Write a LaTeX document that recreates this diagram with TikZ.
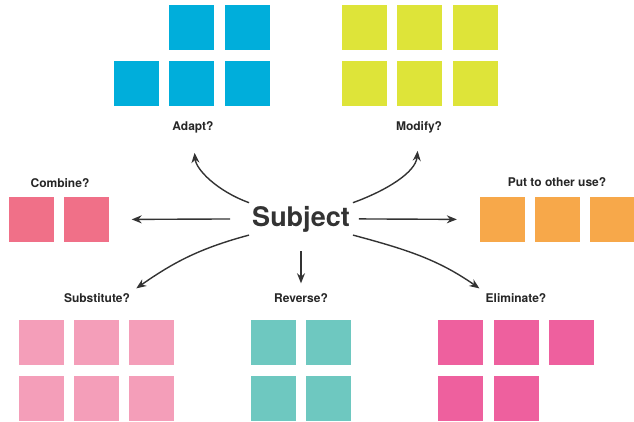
\documentclass[tikz,border=0pt]{standalone}
\usepackage{fontspec}
\setmainfont{TeX Gyre Heros}
\usepackage{xcolor}
\usetikzlibrary{arrows.meta, positioning}
\definecolor{adaptblue}{RGB}{0,174,219}
\definecolor{modifyyellow}{RGB}{222,228,57}
\definecolor{combinered}{RGB}{240,112,136}
\definecolor{putorange}{RGB}{247,168,74}
\definecolor{substpink}{RGB}{244,158,185}
\definecolor{reverseteal}{RGB}{110,200,192}
\definecolor{elimpink}{RGB}{238,96,158}
\definecolor{arrowgray}{RGB}{51,51,51}

\begin{document}
\begin{tikzpicture}[x=1pt, y=1pt,
    tile/.style={fill=#1, minimum size=45pt, inner sep=0pt},
    question/.style={font=\bfseries\fontsize{12}{14}\selectfont, inner sep=2pt, text=black!85},
    link/.style={-{Stealth[length=10pt, width=8pt]}, line width=1.4pt, draw=arrowgray}]

    \useasboundingbox (0,0) rectangle (634,421);

    \node[font=\bfseries\fontsize{27}{30}\selectfont, inner sep=3pt, anchor=base, text=arrowgray] (subject) at (301,195) {Subject};

    \foreach \x/\y [count=\i] in {191.5/393, 247.5/393, 136.5/337.5, 191.5/337.5, 247.5/337.5}
      \node[tile=adaptblue] (adapt\i) at (\x,\y) {};
    \foreach \x/\y [count=\i] in {364.5/393, 419.5/393, 475.5/393, 364.5/337.5, 419.5/337.5, 475.5/337.5}
      \node[tile=modifyyellow] (modify\i) at (\x,\y) {};
    \foreach \x [count=\i] in {31, 86}
      \node[tile=combinered] (combine\i) at (\x,201.5) {};
    \foreach \x [count=\i] in {502.5, 557.5, 612.5}
      \node[tile=putorange] (putuse\i) at (\x,201.5) {};
    \foreach \x/\y [count=\i] in {41/79, 96.5/79, 151.5/79, 41/23, 96.5/23, 151.5/23}
      \node[tile=substpink] (substitute\i) at (\x,\y) {};
    \foreach \x/\y [count=\i] in {273/79, 328.5/79, 273/23, 328.5/23}
      \node[tile=reverseteal] (reverse\i) at (\x,\y) {};
    \foreach \x/\y [count=\i] in {460.5/79, 516.5/79, 571.5/79, 460.5/23, 516.5/23}
      \node[tile=elimpink] (eliminate\i) at (\x,\y) {};

    \node[question] (adapt) at (193,294) {Adapt?};
    \node[question] (modify) at (419,294) {Modify?};
    \node[question] (combine) at (60,238) {Combine?};
    \node[question] (putuse) at (557,239) {Put to other use?};
    \node[question] (substitute) at (97,123) {Substitute?};
    \node[question] (reverse) at (301,123) {Reverse?};
    \node[question] (eliminate) at (516,123) {Eliminate?};

    \draw[link, shorten >=18pt] (subject.north west) to[out=160, in=-85] (adapt.south);
    \draw[link, shorten >=16pt] (subject.north east) to[out=20, in=-95] (modify.south);
    \draw[link, shorten <=19pt, shorten >=23pt] (subject.west) -- (combine2.east);
    \draw[link, shorten <=6pt, shorten >=23pt] (subject.east) -- (putuse1.west);
    \draw[link, shorten >=5pt] (subject.south west) to[out=195, in=35] (substitute.north east);
    \draw[link, shorten <=16pt, shorten >=8pt] (subject.south) -- (reverse.north);
    \draw[link, shorten >=5pt] (subject.south east) to[out=-15, in=145] (eliminate.north west);
  \end{tikzpicture}
\end{document}
